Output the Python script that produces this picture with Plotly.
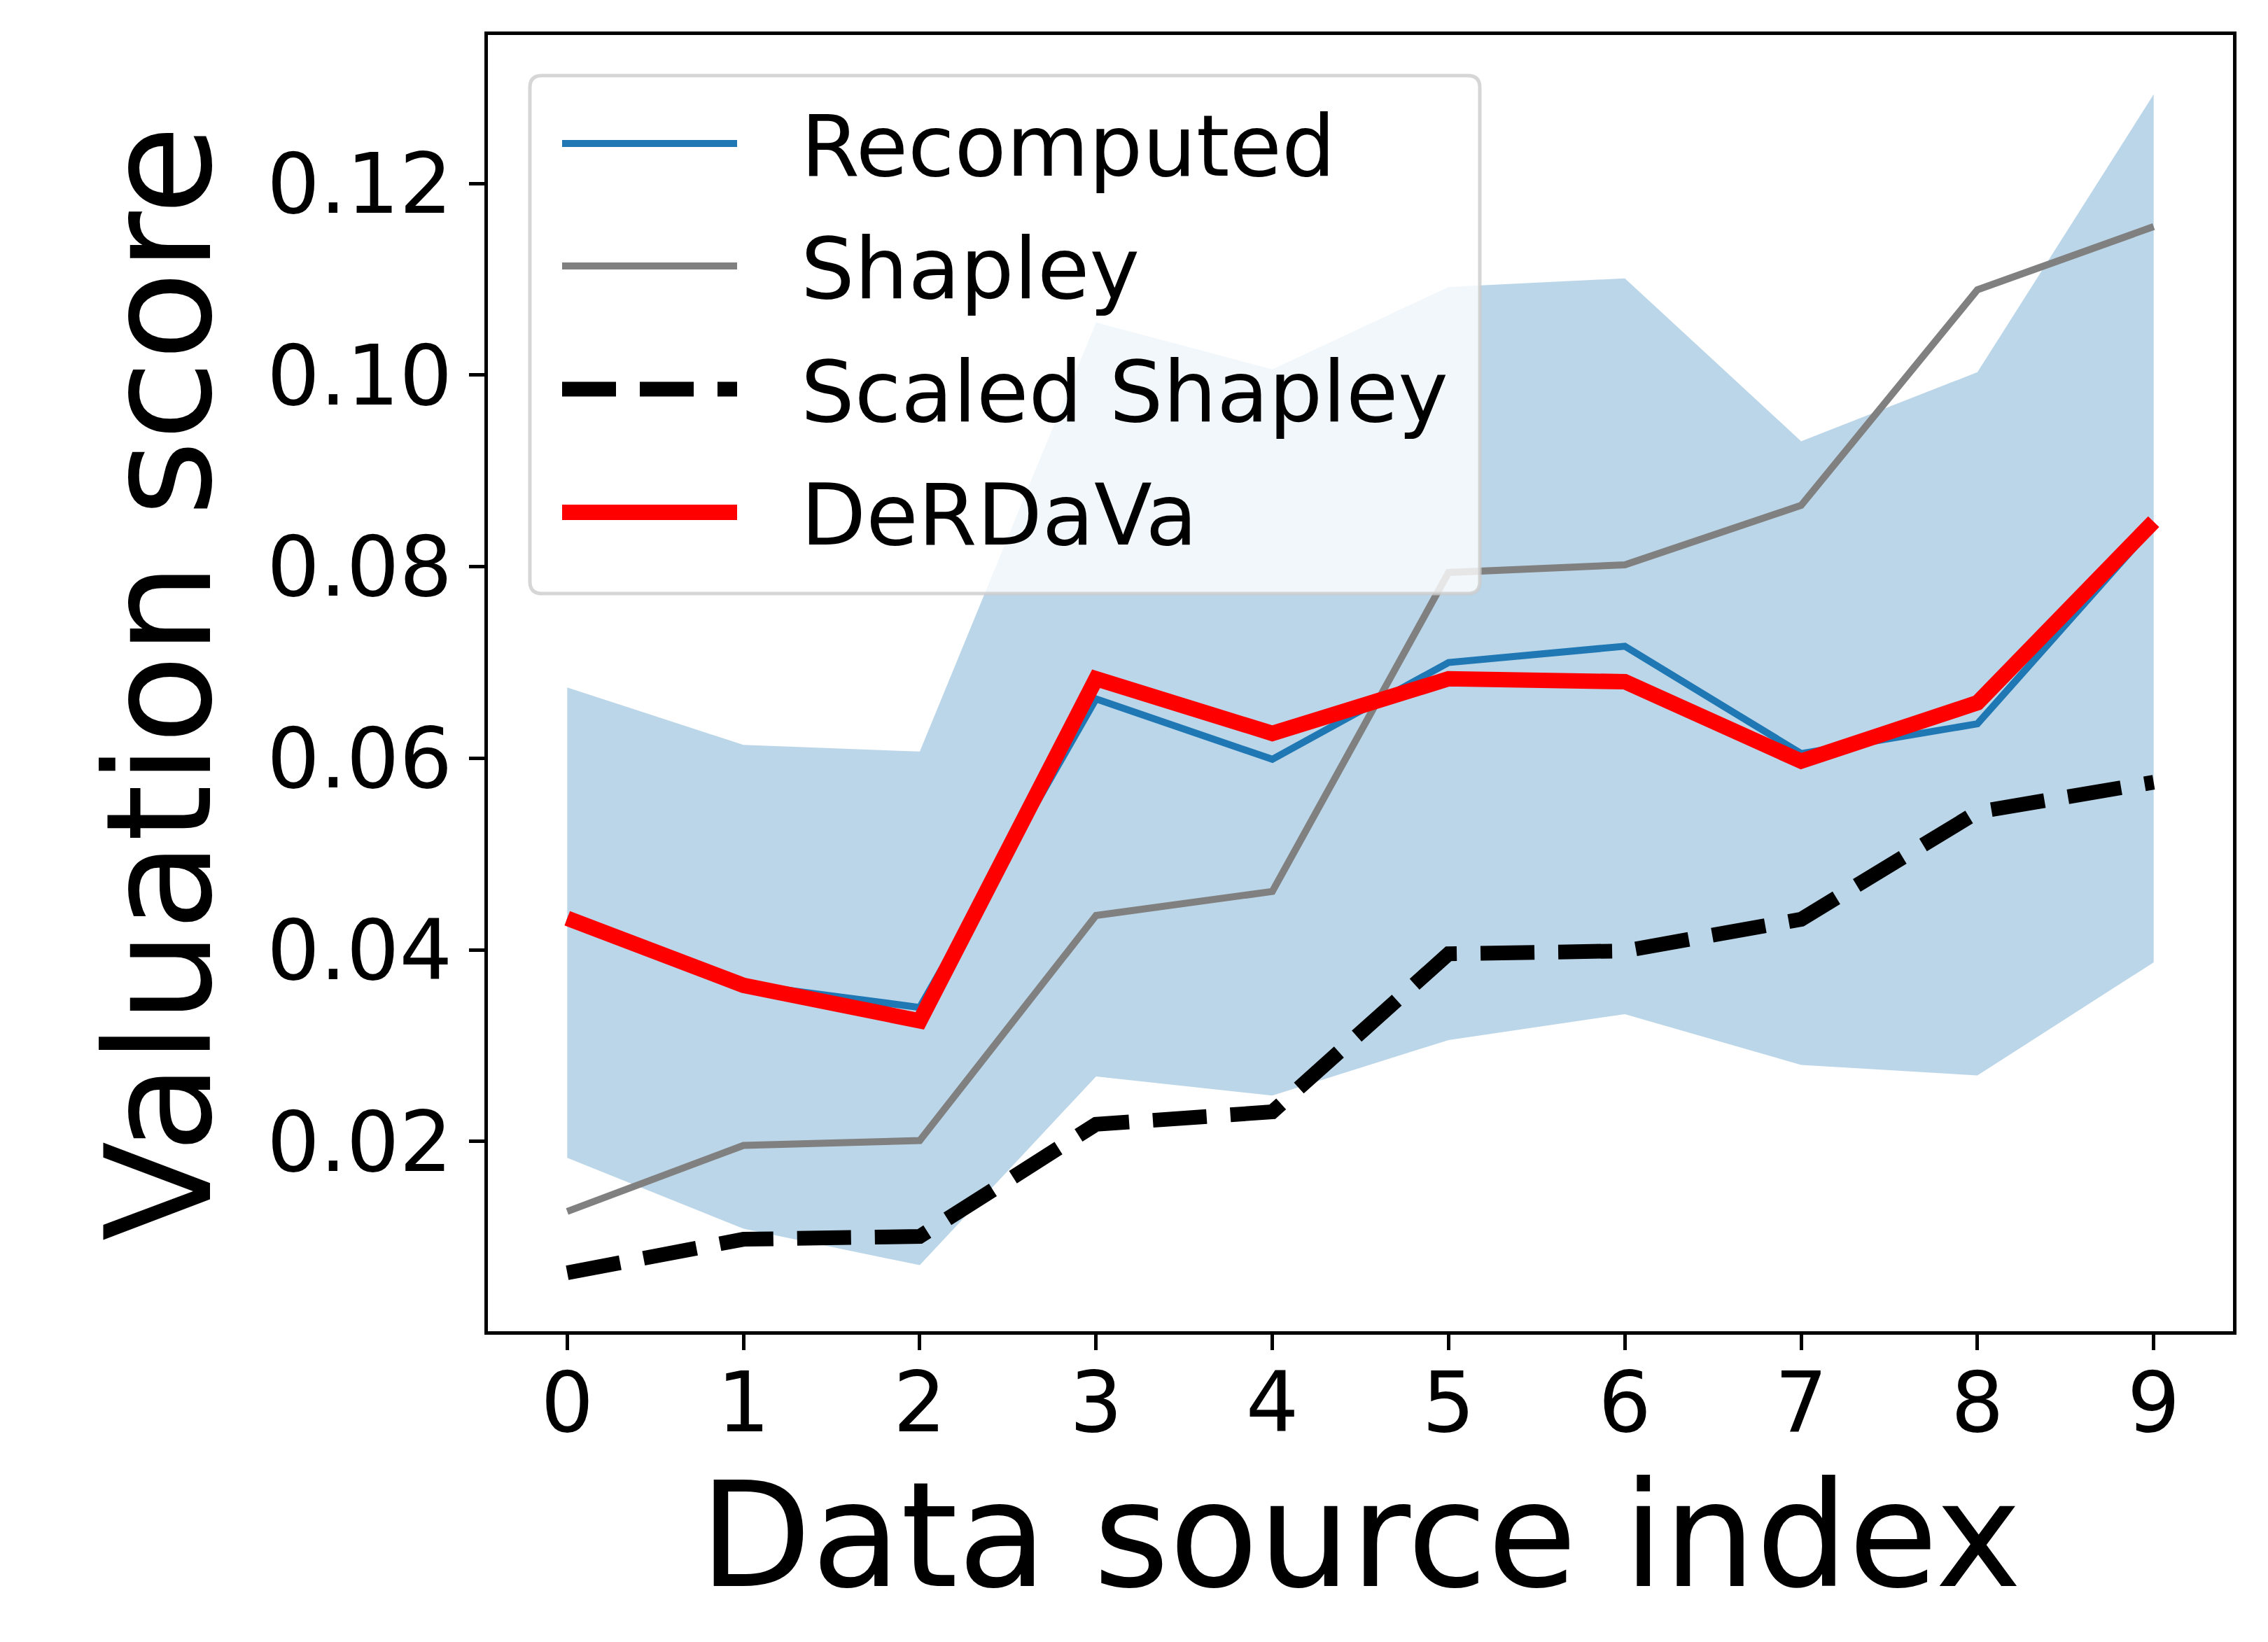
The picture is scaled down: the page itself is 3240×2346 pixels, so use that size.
import plotly.graph_objects as go

# data source indices
idx = [0, 1, 2, 3, 4, 5, 6, 7, 8, 9]

# series
recomputed = [0.0433, 0.0364, 0.0340, 0.0662, 0.0599, 0.0700, 0.0717, 0.0605, 0.0636, 0.0843]
shapley = [0.0127, 0.0196, 0.0201, 0.0436, 0.0461, 0.0794, 0.0802, 0.0864, 0.1089, 0.1155]
scaled_shapley = [0.0063, 0.0098, 0.0101, 0.0218, 0.0231, 0.0396, 0.0399, 0.0432, 0.0544, 0.0575]
derdava = [0.0433, 0.0363, 0.0326, 0.0683, 0.0626, 0.0683, 0.0680, 0.0597, 0.0658, 0.0847]
band_upper = [0.0674, 0.0614, 0.0607, 0.1055, 0.1006, 0.1092, 0.1101, 0.0931, 0.1003, 0.1293]
band_lower = [0.0183, 0.0109, 0.0071, 0.0268, 0.0248, 0.0306, 0.0333, 0.0280, 0.0269, 0.0387]

xticks = [0, 1, 2, 3, 4, 5, 6, 7, 8, 9]
yticks = [0.02, 0.04, 0.06, 0.08, 0.10, 0.12]
ytick_text = ["0.02", "0.04", "0.06", "0.08", "0.10", "0.12"]

legend_names = ["Recomputed", "Shapley", "Scaled Shapley", "DeRDaVa"]

# page body has an 8px margin, so the figure is 8px smaller and the
# plot margins are shifted to keep the axes where the reference has them
OFF = 8
W, H = 3240 - OFF, 2346 - OFF
L, R, T, B = 697 - OFF, 50, 50 - OFF, 444
PW, PH = W - L - R, H - T - B
FONT = "DejaVu Sans"

BLUE = "#1f77b4"
BAND = "rgba(31,119,180,0.3)"


# screen pixel -> paper fraction
def px(x):
    return (x - OFF - L) / PW


def py(y):
    return (H - B - (y - OFF)) / PH


fig = go.Figure()

# shaded band
fig.add_trace(go.Scatter(x=idx, y=band_lower, mode="lines", line=dict(width=0),
                         hoverinfo="skip", showlegend=False))
fig.add_trace(go.Scatter(x=idx, y=band_upper, mode="lines", line=dict(width=0),
                         fill="tonexty", fillcolor=BAND, showlegend=False))

styles = [
    dict(color=BLUE, width=10),
    dict(color="#808080", width=10),
    dict(color="black", width=21, dash="77px,34px"),
    dict(color="#ff0000", width=22),
]
series = [recomputed, shapley, scaled_shapley, derdava]

for name, ys, st in zip(legend_names, series, styles):
    fig.add_trace(go.Scatter(x=idx, y=ys, mode="lines", name=name, line=st, showlegend=False))

# legend drawn by hand so the sample lines get matplotlib length
bx0, bx1, by0, by1, rad = 757, 2114, 108, 848, 17
rx, ry = rad / PW, rad / PH
X0, X1, Y0, Y1 = px(bx0), px(bx1), py(by1), py(by0)
box = (f"M{X0 + rx},{Y1} L{X1 - rx},{Y1} Q{X1},{Y1} {X1},{Y1 - ry} "
       f"L{X1},{Y0 + ry} Q{X1},{Y0} {X1 - rx},{Y0} L{X0 + rx},{Y0} "
       f"Q{X0},{Y0} {X0},{Y0 + ry} L{X0},{Y1 - ry} Q{X0},{Y1} {X0 + rx},{Y1} Z")
shapes = [dict(type="path", path=box, xref="paper", yref="paper",
               fillcolor="rgba(255,255,255,0.8)", line=dict(color="rgba(204,204,204,0.8)", width=5))]
annotations = []
row_y = [205, 380, 556, 732]
for name, st, yy in zip(legend_names, styles, row_y):
    shapes.append(dict(type="line", xref="paper", yref="paper",
                       x0=px(803), x1=px(1053), y0=py(yy), y1=py(yy), line=st))
    annotations.append(dict(text=name, xref="paper", yref="paper", x=px(1142), y=py(yy + 4),
                            xanchor="left", yanchor="middle", showarrow=False,
                            font=dict(family=FONT, size=121, color="black")))

axis_common = dict(showline=True, linewidth=5, linecolor="black", mirror=True,
                   ticks="outside", ticklen=22, tickwidth=5, tickcolor="black",
                   showgrid=False, zeroline=False,
                   tickfont=dict(family=FONT, size=119, color="black"))

fig.update_layout(
    width=W, height=H,
    margin=dict(l=L, r=R, t=T, b=B, pad=0),
    paper_bgcolor="white", plot_bgcolor="white",
    showlegend=False,
    shapes=shapes, annotations=annotations,
    xaxis=dict(range=[-0.45, 9.45], tickvals=xticks, ticklabelstandoff=-27,
               title=dict(text="Data source index", font=dict(family=FONT, size=208, color="black"),
                          standoff=14),
               **axis_common),
    yaxis=dict(range=[0.0002, 0.1355], tickvals=yticks, ticktext=ytick_text,
               title=dict(text="Valuation score", font=dict(family=FONT, size=208, color="black"),
                          standoff=11),
               **axis_common),
)

fig.write_html("out.html")
